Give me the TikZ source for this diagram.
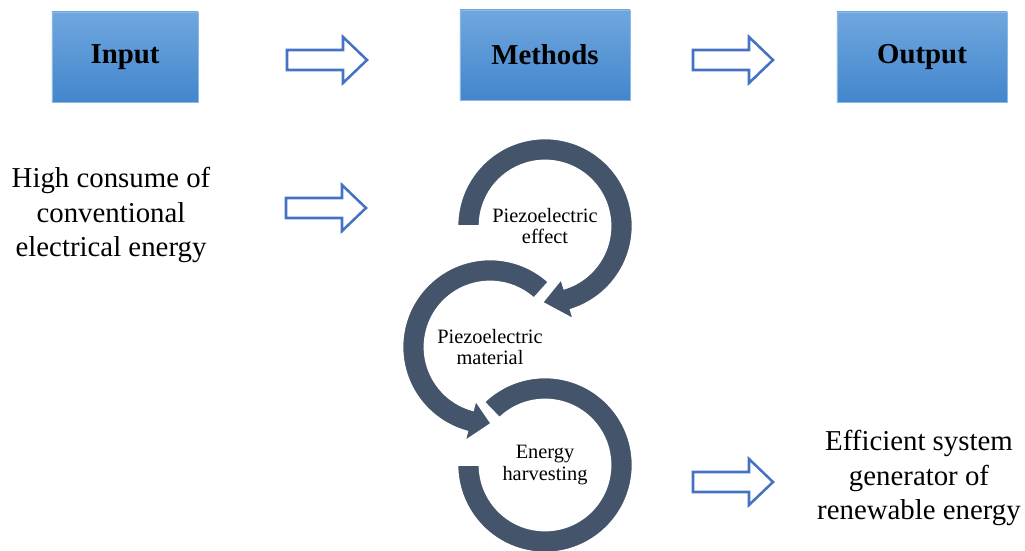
\documentclass[tikz,border=0pt]{standalone}
\usepackage{fontspec}
\setmainfont{Liberation Serif}
\usetikzlibrary{positioning}

\definecolor{boxtop}{RGB}{112,167,222}
\definecolor{boxbot}{RGB}{66,134,205}
\definecolor{boxline}{RGB}{140,185,230}
\definecolor{arrowblue}{RGB}{68,114,196}
\definecolor{ringgray}{RGB}{68,84,106}

\newcommand{\ringout}{2.1875cm}
\newcommand{\ringin}{1.6375cm}
\newcommand{\ringmid}{1.9125cm}
\newcommand{\barbin}{1.3875cm}
\newcommand{\barbout}{2.4375cm}

\tikzset{
  stage/.style={rectangle, top color=boxtop, bottom color=boxbot, draw=boxline,
    line width=0.5pt, minimum height=2.25cm,
    font=\fontsize{20.5}{24}\selectfont\bfseries},
  side/.style={align=center, font=\fontsize{20.5}{24.5}\selectfont},
  ringtext/.style={align=center, font=\fontsize{14.5}{15}\selectfont},
  ring/.style={fill=ringgray, draw=white, line width=1.2pt},
  pics/hollow/.style={code={
    \draw[arrowblue, line width=1.8pt, fill=white, line join=miter]
      (-40,-10) -- (16,-10) -- (16,-23) -- (40,0) -- (16,23) -- (16,10) -- (-40,10) -- cycle;}}
}

\begin{document}
\begin{tikzpicture}[x=0.025cm, y=0.025cm]
    \useasboundingbox (0,0) rectangle (1025,551);

    \node[stage, minimum width=3.65cm] (in)   at (125,494) {Input};
    \node[stage, minimum width=4.25cm] (meth) at (545,496) {Methods};
    \node[stage, minimum width=4.25cm] (out)  at (922,494) {Output};

    \node[side] (need) at (111,336) {High consume of\\conventional\\electrical energy};
    \node[side] (gen)  at (919,73)  {Efficient system\\generator of\\renewable energy};

    \node[ringtext] (effect) at (545,325) {Piezoelectric\\effect};
    \node[ringtext] (mat)    at (490,204) {Piezoelectric\\material};
    \node[ringtext] (harv)   at (545,86)  {Energy\\harvesting};

    \pic at (327,491) {hollow};
    \pic at (733,491) {hollow};
    \pic at (326,343) {hollow};
    \pic at (733,69)  {hollow};

    % circular arrows, last one first
    \path[ring] ([shift={(134:\ringout)}]harv.center)
        arc[start angle=134, end angle=-180, radius=\ringout]
        -- ([shift={(-180:\ringin)}]harv.center)
        arc[start angle=-180, end angle=134, radius=\ringin] -- cycle;
    \path[ring] ([shift={(48:\ringout)}]mat.center)
        arc[start angle=48, end angle=255, radius=\ringout]
        -- ([shift={(255:\barbout)}]mat.center)
        -- ([shift={(271:\ringmid)}]mat.center)
        -- ([shift={(255:\barbin)}]mat.center)
        -- ([shift={(255:\ringin)}]mat.center)
        arc[start angle=255, end angle=48, radius=\ringin] -- cycle;
    \path[ring] ([shift={(180:\ringout)}]effect.center)
        arc[start angle=180, end angle=-73, radius=\ringout]
        -- ([shift={(-73:\barbout)}]effect.center)
        -- ([shift={(-92:\ringmid)}]effect.center)
        -- ([shift={(-73:\barbin)}]effect.center)
        -- ([shift={(-73:\ringin)}]effect.center)
        arc[start angle=-73, end angle=180, radius=\ringin] -- cycle;
\end{tikzpicture}
\end{document}
